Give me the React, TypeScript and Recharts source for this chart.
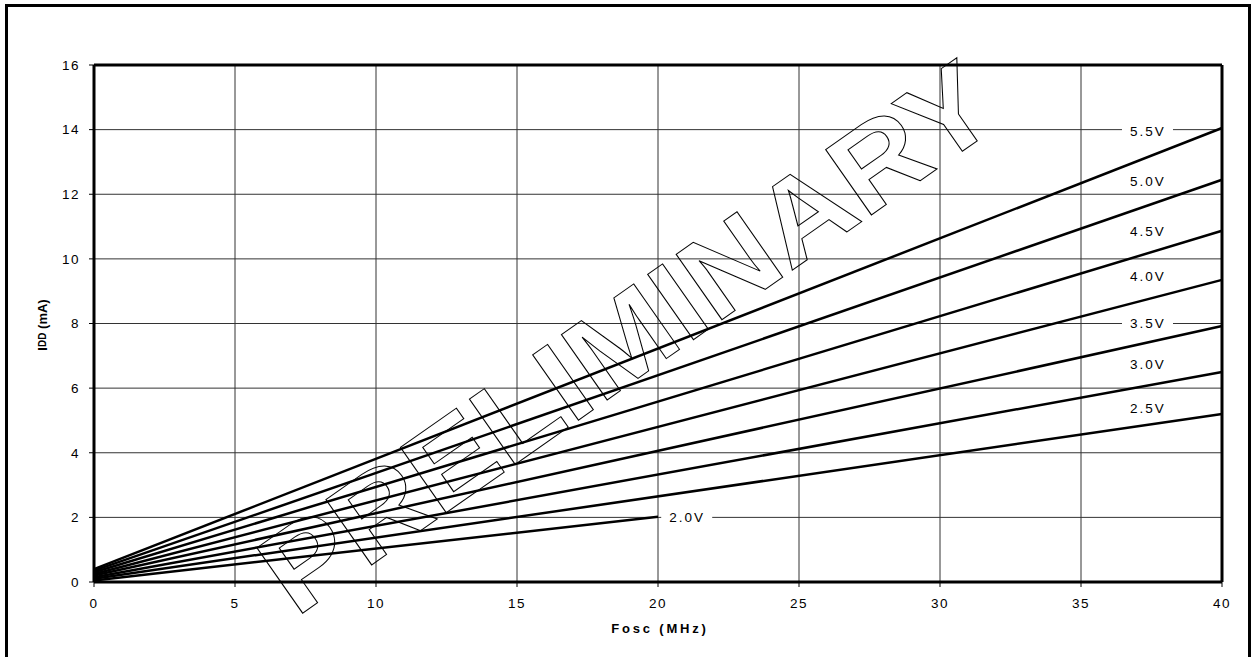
import { LineChart, Line, XAxis, YAxis, CartesianGrid, ReferenceLine, ReferenceDot } from 'recharts';

// frequency points (MHz)
const FREQ_FULL = [0, 40];
const FREQ_LOW = [0, 20];

// IDD (mA) per supply voltage
const IDD_55 = [0.4, 14.05];
const IDD_50 = [0.35, 12.45];
const IDD_45 = [0.3, 10.87];
const IDD_40 = [0.25, 9.35];
const IDD_35 = [0.2, 7.92];
const IDD_30 = [0.15, 6.5];
const IDD_25 = [0.1, 5.2];
const IDD_20 = [0.05, 2.02];

const X_TICKS = [0, 5, 10, 15, 20, 25, 30, 35, 40];
const Y_TICKS = [0, 2, 4, 6, 8, 10, 12, 14, 16];

// curve labels: text, frequency, current
const LABEL_TEXT = ['5.5V', '5.0V', '4.5V', '4.0V', '3.5V', '3.0V', '2.5V', '2.0V'];
const LABEL_F = [37.34, 37.34, 37.34, 37.34, 37.34, 37.34, 37.34, 21.0];
const LABEL_I = [13.94, 12.39, 10.84, 9.45, 8.0, 6.72, 5.38, 2.0];

const toPts = (f: number[], i: number[]) => f.map((x, k) => ({ f: x, i: i[k] }));

const series = [
  toPts(FREQ_FULL, IDD_55),
  toPts(FREQ_FULL, IDD_50),
  toPts(FREQ_FULL, IDD_45),
  toPts(FREQ_FULL, IDD_40),
  toPts(FREQ_FULL, IDD_35),
  toPts(FREQ_FULL, IDD_30),
  toPts(FREQ_FULL, IDD_25),
  toPts(FREQ_LOW, IDD_20),
];

const FONT = 'Arial, "Liberation Sans", sans-serif';

function CurveLabel(props: any) {
  const { cx, cy, text } = props;
  return (
    <g>
      <rect x={cx - 25} y={cy - 9} width={51} height={19} fill="#fff" />
      <text x={cx + 1} y={cy} textAnchor="middle" dominantBaseline="central" fontSize={13.5} letterSpacing={2} fontFamily={FONT} fill="#000">
        {text}
      </text>
    </g>
  );
}

export default function App() {
  const tickStyle = { fontSize: 13.5, fill: '#000', fontFamily: FONT, letterSpacing: 1.5 };
  return (
    <div style={{ position: 'absolute', left: 0, top: 0, width: 1253, height: 657, background: '#fff', overflow: 'hidden' }}>
      <div style={{ position: 'absolute', left: 5, top: 4, width: 1240, height: 700, border: '3px solid #000', boxSizing: 'content-box' }} />
      <div style={{ position: 'absolute', left: 0, top: 0 }}>
        <LineChart width={1253} height={657} margin={{ top: 65, right: 31, bottom: 45, left: 34 }}>
          <CartesianGrid stroke="#333" strokeWidth={1} />
          <XAxis
            dataKey="f"
            type="number"
            domain={[0, 40]}
            ticks={X_TICKS}
            height={30}
            allowDuplicatedCategory={false}
            axisLine={{ stroke: '#000', strokeWidth: 3 }}
            tickLine={{ stroke: '#000', strokeWidth: 1 }}
            tickSize={5}
            tickMargin={11}
            tick={tickStyle}
          />
          <YAxis
            dataKey="i"
            type="number"
            domain={[0, 16]}
            ticks={Y_TICKS}
            width={60}
            axisLine={{ stroke: '#000', strokeWidth: 3 }}
            tickLine={{ stroke: '#000', strokeWidth: 1 }}
            tickSize={5}
            tickMargin={9}
            tick={tickStyle}
          />
          <ReferenceLine y={16} stroke="#000" strokeWidth={3} />
          <ReferenceLine x={40} stroke="#000" strokeWidth={3} />
          {series.map((d, k) => (
            <Line
              key={k}
              data={d}
              dataKey="i"
              stroke="#000"
              strokeWidth={2.5}
              dot={false}
              isAnimationActive={false}
            />
          ))}
          {LABEL_TEXT.map((t, k) => (
            <ReferenceDot
              key={t}
              x={LABEL_F[k]}
              y={LABEL_I[k]}
              r={0}
              shape={(p: any) => <CurveLabel {...p} text={t} />}
            />
          ))}
        </LineChart>
      </div>
      <svg width={1253} height={657} style={{ position: 'absolute', left: 0, top: 0, pointerEvents: 'none' }}>
        <text
          transform="translate(42,325) rotate(-90)"
          textAnchor="middle"
          dominantBaseline="central"
          fontFamily={FONT}
          fontWeight="bold"
          fontSize={13}
          fill="#000"
        >
          I<tspan fontSize={10}>DD</tspan> (mA)
        </text>
        <text x={660} y={628} textAnchor="middle" dominantBaseline="central" fontFamily={FONT} fontWeight="bold" fontSize={13} letterSpacing={2.8} fill="#000">
          Fosc (MHz)
        </text>
        <text
          x={650}
          y={370}
          transform="rotate(-35 650 370)"
          textAnchor="middle"
          fontFamily={FONT}
          fontWeight="bold"
          fontSize={116}
          textLength={865}
          lengthAdjust="spacingAndGlyphs"
          fill="none"
          stroke="#000"
          strokeWidth={1}
        >
          PRELIMINARY
        </text>
      </svg>
    </div>
  );
}
